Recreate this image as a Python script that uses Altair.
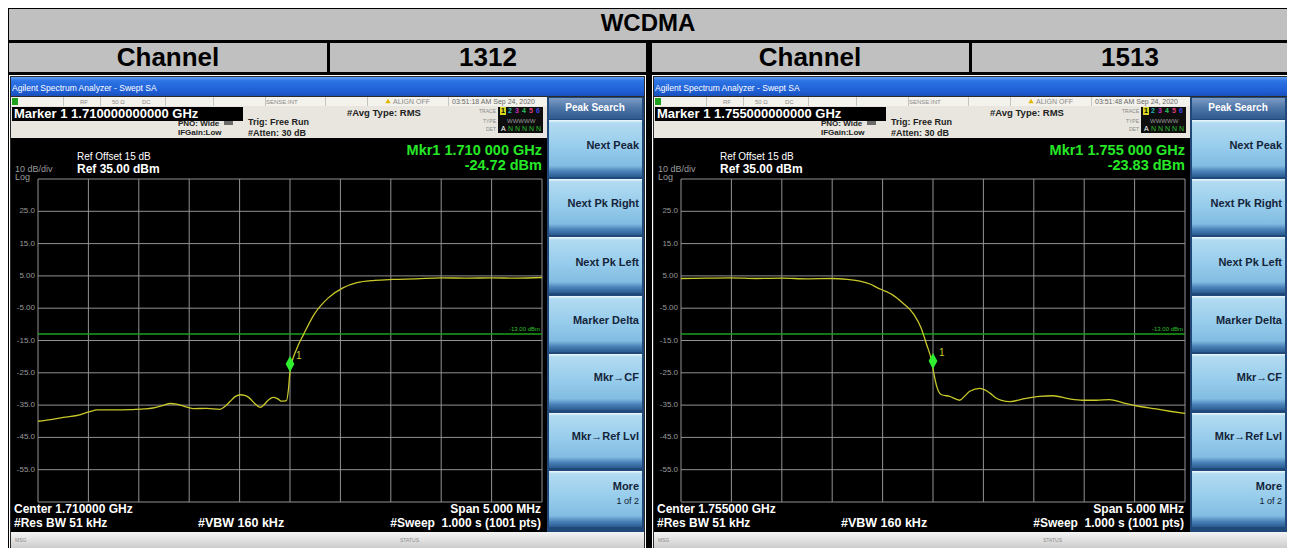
import altair as alt
import pandas as pd

W, H = 1279, 540
PAGE = 8

# ---------------- chart values ----------------
table_title = "WCDMA"
row_labels = ["Channel", "1312", "Channel", "1513"]
center_ghz = ["1.710000", "1.755000"]
marker_freq_text = ["1.710000000000", "1.755000000000"]
marker_readout = ["1.710 000", "1.755 000"]
marker_dbm = [-24.72, -23.83]
marker_offset_mhz = [0.0, 0.0]
timestamps = ["03:51:18 AM Sep 24, 2020", "03:51:48 AM Sep 24, 2020"]
limit_dbm = -13.0
ref_dbm = 35.0
bottom_dbm = -65.0
span_half_mhz = 2.5

grid_offsets_mhz = [-2.5, -2.0, -1.5, -1.0, -0.5, 0.0, 0.5, 1.0, 1.5, 2.0, 2.5]
grid_levels_dbm = [35, 25, 15, 5, -5, -15, -25, -35, -45, -55, -65]
tick_levels_dbm = [25, 15, 5, -5, -15, -25, -35, -45, -55]
tick_labels = ["25.0", "15.0", "5.00", "-5.00", "-15.0", "-25.0", "-35.0", "-45.0", "-55.0"]

ch1312_offset_mhz = [-2.5, -2.375, -2.25, -2.085, -1.985, -1.915, -1.75, -1.585, -1.45, -1.36,
                     -1.25, -1.19, -1.125, -1.05, -0.96, -0.83, -0.695, -0.64, -0.595, -0.54,
                     -0.495, -0.45, -0.41, -0.35, -0.295, -0.26, -0.23, -0.165, -0.125, -0.085,
                     -0.035, -0.015, 0.0, 0.065, 0.135, 0.24, 0.38, 0.525, 0.665, 0.84,
                     1.015, 1.25, 1.5, 1.75, 2.0, 2.25, 2.5]
ch1312_dbm = [-40.0, -39.5, -38.8, -38.0, -37.0, -36.5, -36.5, -36.4, -36.2, -35.9,
              -35.0, -34.5, -34.7, -35.4, -36.1, -36.0, -36.3, -35.3, -33.9, -32.3,
              -31.8, -32.0, -32.6, -34.5, -35.7, -35.0, -33.9, -32.6, -33.0, -33.8,
              -33.6, -30.0, -24.72, -17.7, -13.1, -6.9, -1.8, 1.3, 2.9, 3.6,
              3.9, 4.1, 4.4, 4.3, 4.4, 4.3, 4.5]

ch1513_offset_mhz = [-2.5, -2.25, -2.0, -1.75, -1.5, -1.25, -1.0, -0.85, -0.725, -0.625,
                     -0.55, -0.475, -0.405, -0.3, -0.19, -0.12, -0.065, -0.015, 0.0, 0.04,
                     0.085, 0.165, 0.265, 0.315, 0.365, 0.465, 0.515, 0.565, 0.625, 0.68,
                     0.765, 0.895, 1.055, 1.19, 1.355, 1.485, 1.62, 1.75, 1.885, 2.015,
                     2.215, 2.35, 2.5]
ch1513_dbm = [4.2, 4.3, 4.4, 4.2, 4.3, 4.1, 4.2, 3.9, 3.4, 2.5,
              1.3, 0.3, -0.8, -3.4, -6.9, -11.0, -16.1, -21.2, -23.83, -29.5,
              -31.8, -32.3, -33.5, -32.2, -30.7, -29.8, -30.3, -31.3, -32.8, -33.5,
              -33.9, -33.1, -32.3, -32.1, -33.1, -33.5, -33.5, -33.3, -34.3, -35.2,
              -36.2, -36.9, -37.6]

softkey_header = "Peak Search"
softkeys = ["Next Peak", "Next Pk Right", "Next Pk Left", "Marker Delta",
            "Mkr\u2192CF", "Mkr\u2192Ref Lvl", "More"]

# ---------------- styling / layout ----------------
FONT = "Liberation Sans"
TRACE = "#C8C82A"
GREEN = "#27E827"
DX = [0, 643]
GX0, GX1, GY0, GY1 = 38, 542, 179, 502

LX = alt.Scale(domain=[PAGE, PAGE + W], range=[0, W], nice=False, zero=False)
LY = alt.Scale(domain=[PAGE, PAGE + H], range=[0, H], nice=False, zero=False)


def fscale(dx):
    return alt.Scale(domain=[-span_half_mhz, span_half_mhz],
                     range=[GX0 - PAGE + dx, GX1 - PAGE + dx], nice=False, zero=False)


def dscale():
    return alt.Scale(domain=[bottom_dbm, ref_dbm], range=[GY1 - PAGE, GY0 - PAGE],
                     nice=False, zero=False)


def grad(stops):
    return {"gradient": "linear", "x1": 0, "y1": 0, "x2": 0, "y2": 1,
            "stops": [{"offset": o, "color": c} for o, c in stops]}


def rect_layer(rows, **kw):
    df = pd.DataFrame(rows, columns=["x", "x2", "y", "y2", "c"])
    enc = dict(x=alt.X("x:Q", scale=LX, axis=None), x2="x2:Q",
               y=alt.Y("y:Q", scale=LY, axis=None), y2="y2:Q")
    if "color" not in kw:
        enc["color"] = alt.Color("c:N", scale=None)
    return alt.Chart(df).mark_rect(**kw).encode(**enc)


def text_layer(rows, align="left", weight="normal", **kw):
    df = pd.DataFrame(rows, columns=["x", "y", "t", "s", "c"])
    return alt.Chart(df).mark_text(align=align, baseline="middle", fontWeight=weight,
                                   font=FONT, **kw).encode(
        x=alt.X("x:Q", scale=LX, axis=None), y=alt.Y("y:Q", scale=LY, axis=None),
        text="t:N", size=alt.Size("s:Q", scale=None), color=alt.Color("c:N", scale=None))


layers = []

# ---- table frame ----
frame = [(6, 1291, 6, 551, "#000000"),
         (9, 1288, 9, 40, "#C0C0C0"),
         (9, 327, 43, 72, "#C0C0C0"), (330, 646, 43, 72, "#C0C0C0"),
         (652, 969, 43, 72, "#C0C0C0"), (972, 1288, 43, 72, "#C0C0C0")]
plain = []
title_bars, buttons, headers, statusbars = [], [], [], []
t_left, t_left_b, t_right, t_right_b, t_center_b = [], [], [], [], []

btn_rows = [(120, 177), (179, 235), (237, 293), (296, 352), (354, 410), (413, 468), (471, 527)]
btn_text_y = [146, 204, 263, 321, 378, 437, 487]

for p, dx in enumerate(DX):
    plain += [
        (9 + dx, 646 + dx, 75, 549, "#FFFFFF"),
        (10 + dx, 645 + dx, 76, 548, "#2A2A2A"),
        (11 + dx, 547 + dx, 97, 138, "#E8E6DE"),
        (11 + dx, 547 + dx, 97, 106, "#F3F2EC"),
        (12 + dx, 18 + dx, 98, 105, "#1FA01F"),
        (12 + dx, 243 + dx, 107, 121, "#000000"),
        (224 + dx, 233 + dx, 121, 125, "#6A6A6A"),
        (498 + dx, 543 + dx, 107, 133, "#0E0E0E"),
        (500 + dx, 506 + dx, 107, 115, "#D8D820"),
        (11 + dx, 547 + dx, 138, 532, "#000000"),
        (547 + dx, 644 + dx, 97, 532, "#20497A"),
    ]
    for sx in [63, 100, 165, 213, 265, 325, 367, 448]:
        plain.append((sx + dx, sx + 1 + dx, 97, 106, "#C4C4C0"))
    title_bars.append((11 + dx, 644 + dx, 77, 96, ""))
    headers.append((549 + dx, 642 + dx, 98, 119, ""))
    statusbars.append((11 + dx, 644 + dx, 532, 548, ""))
    for (a, b) in btn_rows:
        buttons.append((549 + dx, 642 + dx, a, b, ""))

    t_left += [
        (12 + dx, 88, "Agilent Spectrum Analyzer - Swept SA", 8.5, "#FFFFFF"),
        (80 + dx, 102, "RF", 6, "#8A8A8A"),
        (112 + dx, 102, "50 \u03a9", 6, "#8A8A8A"),
        (142 + dx, 102, "DC", 6, "#8A8A8A"),
        (266 + dx, 102, "SENSE:INT", 6, "#8A8A8A"),
        (393 + dx, 102, "ALIGN OFF", 7, "#8A8A8A"),
        (452 + dx, 102, timestamps[p], 7, "#6A6A6A"),
        (15 + dx, 169, "10 dB/div", 9, "#9A9A9A"),
        (15 + dx, 177, "Log", 9, "#9A9A9A"),
        (77 + dx, 157, "Ref Offset 15 dB", 10, "#FFFFFF"),
        (15 + dx, 540, "MSG", 5, "#8A8A8A"),
        (400 + dx, 540, "STATUS", 5, "#8A8A8A"),
        (507 + dx, 121, "WWWWW", 6, "#9A9A9A"),
        (501 + dx, 129, "A", 7, "#FFFFFF"),
        (508 + dx, 129, "N N N N N", 7, "#2FBF2F"),
    ]
    digit_cols = ["#000000", "#22B5B5", "#C030C0", "#30C060", "#E04080", "#4040E0"]
    for i, dc in enumerate(digit_cols):
        t_left_b.append((501 + i * 7 + dx, 111, str(i + 1), 7, dc))
    t_left_b += [
        (14 + dx, 114, "Marker 1 " + marker_freq_text[p] + " GHz", 13, "#FFFFFF"),
        (178 + dx, 124, "PNO: Wide", 8, "#222222"),
        (178 + dx, 133, "IFGain:Low", 8, "#222222"),
        (248 + dx, 122, "Trig: Free Run", 9, "#222222"),
        (248 + dx, 133, "#Atten: 30 dB", 9, "#222222"),
        (347 + dx, 113, "#Avg Type: RMS", 9.5, "#222222"),
        (77 + dx, 169, "Ref 35.00 dBm", 12, "#FFFFFF"),
        (14 + dx, 509, "Center " + center_ghz[p] + " GHz", 12, "#FFFFFF"),
        (14 + dx, 523, "#Res BW 51 kHz", 12, "#FFFFFF"),
        (198 + dx, 523, "#VBW 160 kHz", 12.5, "#FFFFFF"),
    ]
    t_right += [
        (496 + dx, 111, "TRACE", 5, "#8A8A8A"),
        (496 + dx, 121, "TYPE", 5, "#8A8A8A"),
        (496 + dx, 129, "DET", 5, "#8A8A8A"),
        (639 + dx, 501, "1 of 2", 9, "#102030"),
    ]
    t_right_b += [
        (542 + dx, 151, "Mkr1 " + marker_readout[p] + " GHz", 14.5, GREEN),
        (542 + dx, 166, "%.2f dBm" % marker_dbm[p], 14.5, GREEN),
        (541 + dx, 509, "Span 5.000 MHz", 12, "#FFFFFF"),
        (541 + dx, 523, "#Sweep \u00a01.000 s (1001 pts)", 12, "#FFFFFF"),
    ]
    for k, ty in zip(softkeys, btn_text_y):
        t_right_b.append((639 + dx, ty, k, 11, "#14243A"))
    t_center_b.append((595 + dx, 108, softkey_header, 10, "#FFFFFF"))

t_center_b += [(648, 24, table_title, 24, "#000000"),
               (168, 58, row_labels[0], 26, "#000000"),
               (488, 58, row_labels[1], 26, "#000000"),
               (810, 58, row_labels[2], 26, "#000000"),
               (1130, 58, row_labels[3], 26, "#000000")]

layers.append(rect_layer(frame))
layers.append(rect_layer(plain))
layers.append(rect_layer(title_bars, color=grad([(0, "#5E9EF4"), (0.2, "#2D74E4"),
                                                 (0.75, "#1E5ED4"), (1, "#1A50BA")])))
layers.append(rect_layer(headers, color=grad([(0, "#7D9CC4"), (0.5, "#4C74A6"),
                                              (1, "#2E5A8E")])))
layers.append(rect_layer(statusbars, color=grad([(0, "#F4F4F4"), (1, "#CDCDCD")])))
layers.append(rect_layer(buttons, color=grad([(0, "#F0F8FC"), (0.05, "#B2DBF1"),
                                              (0.45, "#98CDEC"), (0.8, "#82BCE2"),
                                              (0.9, "#4A82B8"), (1, "#2B5B90")])))

# warning icon
warn = pd.DataFrame({"x": [388, 388 + 643], "y": [101, 101]})
layers.append(alt.Chart(warn).mark_point(shape="triangle-up", filled=True, color="#E0B800",
                                         size=28, opacity=1).encode(
    x=alt.X("x:Q", scale=LX, axis=None), y=alt.Y("y:Q", scale=LY, axis=None)))

# ---- spectrum panels ----
traces = [(ch1312_offset_mhz, ch1312_dbm), (ch1513_offset_mhz, ch1513_dbm)]
for p, dx in enumerate(DX):
    fx = fscale(dx)
    dy = dscale()
    vg = pd.DataFrame({"off": grid_offsets_mhz})
    layers.append(alt.Chart(vg).mark_rule(color="#929292", strokeWidth=1).encode(
        x=alt.X("off:Q", scale=fx, axis=None),
        y=alt.value(GY0 - PAGE), y2=alt.value(GY1 - PAGE)))
    hg = pd.DataFrame({"lvl": grid_levels_dbm})
    layers.append(alt.Chart(hg).mark_rule(color="#929292", strokeWidth=1).encode(
        y=alt.Y("lvl:Q", scale=dy, axis=None),
        x=alt.value(GX0 - PAGE + dx), x2=alt.value(GX1 - PAGE + dx)))
    tk = pd.DataFrame({"lvl": tick_levels_dbm, "lab": tick_labels})
    layers.append(alt.Chart(tk).mark_text(align="right", baseline="middle", font=FONT,
                                          fontSize=8, color="#9A9A9A").encode(
        y=alt.Y("lvl:Q", scale=dy, axis=None), x=alt.value(35 - PAGE + dx), text="lab:N"))
    lim = pd.DataFrame({"lvl": [limit_dbm], "lab": ["%.2f dBm" % limit_dbm]})
    layers.append(alt.Chart(lim).mark_rule(color="#1AA01A", strokeWidth=1.5).encode(
        y=alt.Y("lvl:Q", scale=dy, axis=None),
        x=alt.value(GX0 - PAGE + dx), x2=alt.value(GX1 - PAGE + dx)))
    layers.append(alt.Chart(lim).mark_text(align="right", baseline="bottom", font=FONT,
                                           fontSize=6, color="#2FC02F", dy=-2).encode(
        y=alt.Y("lvl:Q", scale=dy, axis=None), x=alt.value(GX1 - 2 - PAGE + dx),
        text="lab:N"))
    tr = pd.DataFrame({"off": traces[p][0], "dbm": traces[p][1]})
    layers.append(alt.Chart(tr).mark_line(color=TRACE, strokeWidth=1.3,
                                          interpolate="monotone").encode(
        x=alt.X("off:Q", scale=fx, axis=None), y=alt.Y("dbm:Q", scale=dy, axis=None)))
    mk = pd.DataFrame({"off": [marker_offset_mhz[p]], "dbm": [marker_dbm[p]], "lab": ["1"]})
    layers.append(alt.Chart(mk).mark_point(shape="M0,-1L0.55,0L0,1L-0.55,0Z", filled=True,
                                           color="#30EE30", size=256, opacity=1,
                                           yOffset=-8).encode(
        x=alt.X("off:Q", scale=fx, axis=None), y=alt.Y("dbm:Q", scale=dy, axis=None)))
    layers.append(alt.Chart(mk).mark_text(align="left", baseline="middle", font=FONT,
                                          fontSize=10, color="#C8C830", dx=6, dy=-16).encode(
        x=alt.X("off:Q", scale=fx, axis=None), y=alt.Y("dbm:Q", scale=dy, axis=None),
        text="lab:N"))

# ---- texts ----
layers.append(text_layer(t_left, "left", "normal"))
layers.append(text_layer(t_left_b, "left", "bold"))
layers.append(text_layer(t_right, "right", "normal"))
layers.append(text_layer(t_right_b, "right", "bold"))
layers.append(text_layer(t_center_b, "center", "bold"))

chart = alt.layer(*layers).resolve_scale(
    x="independent", y="independent", color="independent", size="independent"
).properties(width=W, height=H, padding=0, autosize="none",
             background="#FFFFFF").configure_view(stroke=None)

chart.save("out.html", embed_options={"renderer": "svg", "actions": False})
